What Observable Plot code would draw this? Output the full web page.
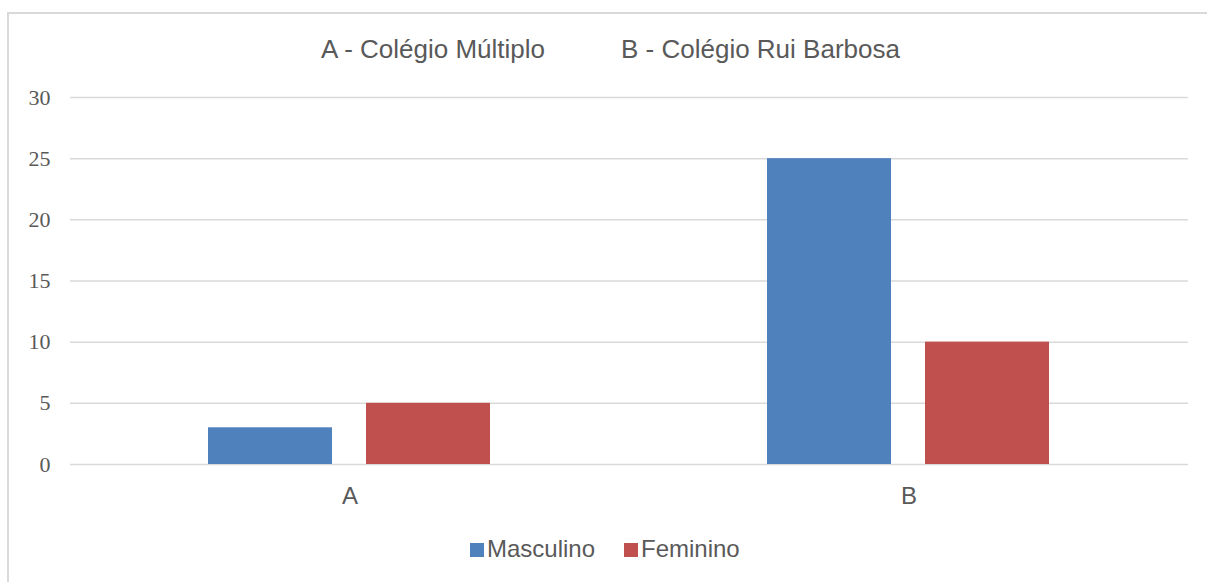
<!DOCTYPE html>
<html>
<head>
<meta charset="utf-8">
<script src="https://cdn.jsdelivr.net/npm/d3@7"></script>
<script src="https://cdn.jsdelivr.net/npm/@observablehq/plot@0.6"></script>
<style>
  html, body { margin: 0; padding: 0; background: #fff; width: 1207px; height: 582px; overflow: hidden; }
  #frame { position: absolute; left: 7px; top: 12px; width: 1220px; height: 600px;
           border-left: 2px solid #d9d9d9; border-top: 2px solid #d9d9d9; box-sizing: border-box; }
  #chart { position: absolute; left: 0; top: 0; }
  .t { position: absolute; font-family: "Liberation Sans", Arial, sans-serif; font-size: 24px;
       line-height: 24px; color: #595959; white-space: nowrap; }
  .tt { font-size: 26px; line-height: 26px; }
  .sw { position: absolute; width: 14px; height: 14px; }
  g[aria-label^="y-axis"] text { font-family: "Liberation Serif", "Times New Roman", serif; font-size: 22px; fill: #595959; }
  g[aria-label^="fx-axis"] text { font-family: "Liberation Sans", Arial, sans-serif; font-size: 24px; fill: #595959; }
</style>
</head>
<body>
<div id="frame"></div>
<div id="chart"></div>
<div class="t tt" id="title1" style="left:321px; top:36px;"></div>
<div class="t tt" id="title2" style="left:621px; top:36px;"></div>
<div class="sw" style="left:470px; top:543px; background:#4f81bd;"></div>
<div class="t" id="leg1" style="left:487px; top:537px;"></div>
<div class="sw" style="left:624px; top:543px; background:#c0504d;"></div>
<div class="t" id="leg2" style="left:641px; top:537px;"></div>
<script>
const schools = ["A", "B"];
const schoolNames = ["A - Colégio Múltiplo", "B - Colégio Rui Barbosa"];
const genders = ["Masculino", "Feminino"];
const masculino = [3, 25];
const feminino = [5, 10];
const yTicks = [0, 5, 10, 15, 20, 25, 30];
const colors = ["#4f81bd", "#c0504d"];

document.getElementById("title1").textContent = schoolNames[0];
document.getElementById("title2").textContent = schoolNames[1];
document.getElementById("leg1").textContent = genders[0];
document.getElementById("leg2").textContent = genders[1];

const data = [];
schools.forEach((s, i) => {
  data.push({school: s, gender: genders[0], value: masculino[i]});
  data.push({school: s, gender: genders[1], value: feminino[i]});
});

const chart = Plot.plot({
  width: 1207,
  height: 582,
  marginLeft: 70,
  marginRight: 19,
  marginTop: 97,
  marginBottom: 118,
  style: {background: "transparent", color: "#595959", overflow: "visible"},
  facet: {data: data, x: "school"},
  fx: {domain: schools, padding: 0, axis: "bottom", tickSize: 0, tickPadding: 22, label: null},
  x: {domain: genders, paddingInner: 0.2138, paddingOuter: 0.8648, axis: null},
  y: {domain: [0, 30], ticks: 6, tickSize: 0, tickPadding: 20, label: null, tickFormat: d => String(d)},
  color: {domain: genders, range: colors},
  marks: [
    Plot.ruleY(yTicks, {stroke: "#d9d9d9", strokeWidth: 1.5}),
    Plot.barY(data, {x: "gender", y: "value", fill: "gender"})
  ]
});
document.getElementById("chart").appendChild(chart);
</script>
</body>
</html>
